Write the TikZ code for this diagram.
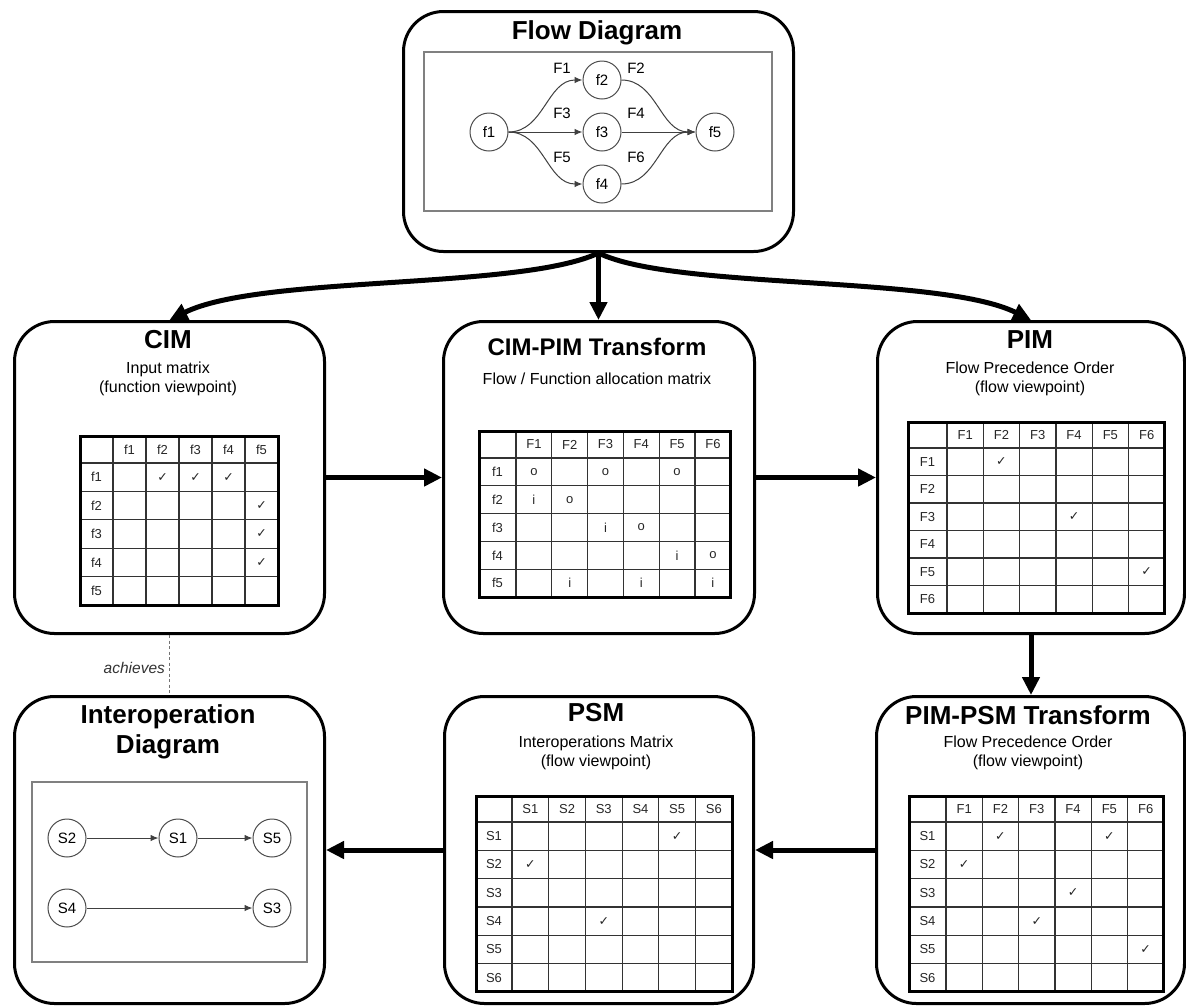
\documentclass[tikz,border=0pt]{standalone}
\usepackage{fontspec}
\setmainfont{Liberation Sans}
\newfontfamily\symfont{DejaVu Sans}
\usetikzlibrary{arrows.meta,calc}

\tikzset{
  panel/.style={draw=black, line width=3pt, rounded corners=40pt, inner sep=0pt, anchor=north west},
  paneltitle/.style={font=\fontsize{26}{30}\selectfont\bfseries, align=center, inner sep=0pt},
  panelsub/.style={font=\fontsize{16}{18.5}\selectfont, align=center, inner sep=0pt},
  innerframe/.style={draw=black!50, line width=1.3pt},
  state/.style={circle, draw=black!70, line width=1pt, minimum size=38pt, inner sep=0pt, font=\fontsize{15}{15}\selectfont},
  flowedge/.style={draw=black!75, line width=1pt, -{Latex[length=8pt,width=6.5pt]}},
  flowlabel/.style={font=\fontsize{15}{15}\selectfont, inner sep=0pt},
  bigarrow/.style={line width=5pt, -{Triangle[length=18pt,width=17pt]}},
  gridline/.style={draw=black!80, line width=1.2pt},
  gridframe/.style={draw=black, line width=3pt},
  celltext/.style={font=\fontsize{13}{13}\selectfont, inner sep=0pt, text=black!85},
  relation/.style={draw=black!55, line width=1.2pt, dash pattern=on 3pt off 2.5pt},
  relationlabel/.style={font=\fontsize{15.5}{15.5}\selectfont\itshape, text=black!80, inner sep=4pt},
}

% grid of a matrix: name, x0, y0, header column width, column width,
% header row height, row height, number of columns, number of rows
\newcommand\tablesetup[9]{%
  \def\tgname{#1}\def\tgx{#2}\def\tgy{#3}\def\tghw{#4}\def\tgcw{#5}\def\tghh{#6}\def\tgrh{#7}%
  \pgfmathsetmacro\tgxe{#2+#4+#8*#5}%
  \pgfmathsetmacro\tgye{#3+#6+#9*#7}%
  \foreach \c in {1,...,#8}{\draw[gridline] ({#2+#4+(\c-1)*#5},#3) -- ({#2+#4+(\c-1)*#5},\tgye);}%
  \foreach \r in {1,...,#9}{\draw[gridline] (#2,{#3+#6+(\r-1)*#7}) -- (\tgxe,{#3+#6+(\r-1)*#7});}%
  \draw[gridframe] (#2,#3) rectangle (\tgxe,\tgye);%
}
\newcommand\colhead[2]{\node[celltext] (\tgname-h#1) at ({\tgx+\tghw+(#1-0.5)*\tgcw},{\tgy+0.5*\tghh}) {#2};}
\newcommand\rowhead[2]{\node[celltext] (\tgname-v#1) at ({\tgx+0.5*\tghw},{\tgy+\tghh+(#1-0.5)*\tgrh}) {#2};}
\newcommand\cellmark[3]{\node[celltext] (\tgname-c#1r#2) at ({\tgx+\tghw+(#1-0.5)*\tgcw},{\tgy+\tghh+(#2-0.5)*\tgrh}) {#3};}
\newcommand\chk{{\symfont\fontsize{12.5}{12.5}\selectfont ✓}}

\begin{document}
\begin{tikzpicture}[x=1pt,y=-1pt]
\fill[white] (0,0) rectangle (1186,1005);
\useasboundingbox (0,0) rectangle (1186,1005);

% ---------- panels ----------
\node[panel, minimum width=390pt, minimum height=240pt] (flow)   at (402,10)  {};
\node[panel, minimum width=310pt, minimum height=312pt] (cim)    at (13,320)  {};
\node[panel, minimum width=311pt, minimum height=312pt] (cimpim) at (442,320) {};
\node[panel, minimum width=307pt, minimum height=312pt] (pim)    at (876,320) {};
\node[panel, minimum width=310pt, minimum height=307pt] (interop) at (13,695) {};
\node[panel, minimum width=309pt, minimum height=307pt] (psm)    at (443,695) {};
\node[panel, minimum width=308pt, minimum height=307pt] (pimpsm) at (875,695) {};

% ---------- titles ----------
\node[paneltitle] (tflow) at (597,33) {Flow Diagram};
\node[paneltitle] (tcim) at (168,340) {CIM};
\node[panelsub] (scim) at (168,379) {Input matrix\\(function viewpoint)};
\node[paneltitle, font=\fontsize{24}{28}\selectfont\bfseries] (tcimpim) at (597,347) {CIM-PIM Transform};
\node[panelsub] (scimpim) at (597,379) {Flow / Function allocation matrix};
\node[paneltitle] (tpim) at (1030,340) {PIM};
\node[panelsub] (spim) at (1030,379) {Flow Precedence Order\\(flow viewpoint)};
\node[paneltitle] (tinterop) at (168,732) {Interoperation\\Diagram};
\node[paneltitle] (tpsm) at (596,713) {PSM};
\node[panelsub] (spsm) at (596,753) {Interoperations Matrix\\(flow viewpoint)};
\node[paneltitle] (tpimpsm) at (1028,715) {PIM-PSM Transform};
\node[panelsub] (spimpsm) at (1028,753) {Flow Precedence Order\\(flow viewpoint)};

% ---------- flow diagram ----------
\draw[innerframe] (424,52) rectangle (772,211);
\node[state] (f1) at (489,132) {f1};
\node[state] (f2) at (602,80)  {f2};
\node[state] (f3) at (602,132) {f3};
\node[state] (f4) at (602,184) {f4};
\node[state] (f5) at (715,132) {f5};
\draw[flowedge] (f1) to[out=0,in=180] (f2);
\draw[flowedge] (f1) -- (f3);
\draw[flowedge] (f1) to[out=0,in=180] (f4);
\draw[flowedge] (f2) to[out=0,in=180] (f5);
\draw[flowedge] (f3) -- (f5);
\draw[flowedge] (f4) to[out=0,in=180] (f5);
\node[flowlabel] (lF1) at (562,68)  {F1};
\node[flowlabel] (lF2) at (636,68)  {F2};
\node[flowlabel] (lF3) at (562,113) {F3};
\node[flowlabel] (lF4) at (636,113) {F4};
\node[flowlabel] (lF5) at (562,157) {F5};
\node[flowlabel] (lF6) at (636,157) {F6};

% ---------- interoperation diagram ----------
\draw[innerframe] (32,782) rectangle (307,962);
\node[state] (s2) at (67,838)  {S2};
\node[state] (s1) at (178,838) {S1};
\node[state] (s5) at (272,838) {S5};
\node[state] (s4) at (67,908)  {S4};
\node[state] (s3) at (272,908) {S3};
\draw[flowedge] (s2) -- (s1);
\draw[flowedge] (s1) -- (s5);
\draw[flowedge] (s4) -- (s3);

% ---------- CIM input matrix ----------
\tablesetup{cim}{80}{436}{33}{33}{27}{28.4}{5}{5}
\foreach \t [count=\i] in {f1,f2,f3,f4,f5} {\colhead{\i}{\t}\rowhead{\i}{\t}}
\cellmark{2}{1}{\chk}\cellmark{3}{1}{\chk}\cellmark{4}{1}{\chk}
\cellmark{5}{2}{\chk}\cellmark{5}{3}{\chk}\cellmark{5}{4}{\chk}

% ---------- CIM-PIM allocation matrix ----------
\tablesetup{cimpim}{479}{431}{37}{35.8}{27}{27.8}{6}{5}
\foreach \t [count=\i] in {F1,F2,F3,F4,F5,F6} {\colhead{\i}{\t}}
\foreach \t [count=\i] in {f1,f2,f3,f4,f5} {\rowhead{\i}{\t}}
\cellmark{1}{1}{o}\cellmark{3}{1}{o}\cellmark{5}{1}{o}
\cellmark{1}{2}{i}\cellmark{2}{2}{o}
\cellmark{3}{3}{i}\cellmark{4}{3}{o}
\cellmark{5}{4}{i}\cellmark{6}{4}{o}
\cellmark{2}{5}{i}\cellmark{4}{5}{i}\cellmark{6}{5}{i}

% ---------- PIM flow precedence matrix ----------
\tablesetup{pim}{908}{422}{39}{36.3}{26}{27.5}{6}{6}
\foreach \t [count=\i] in {F1,F2,F3,F4,F5,F6} {\colhead{\i}{\t}\rowhead{\i}{\t}}
\cellmark{2}{1}{\chk}\cellmark{4}{3}{\chk}\cellmark{6}{5}{\chk}

% ---------- PIM-PSM transform matrix ----------
\tablesetup{pimpsm}{909}{796}{37}{36.3}{26}{28.3}{6}{6}
\foreach \t [count=\i] in {F1,F2,F3,F4,F5,F6} {\colhead{\i}{\t}}
\foreach \t [count=\i] in {S1,S2,S3,S4,S5,S6} {\rowhead{\i}{\t}}
\cellmark{2}{1}{\chk}\cellmark{5}{1}{\chk}\cellmark{1}{2}{\chk}
\cellmark{4}{3}{\chk}\cellmark{3}{4}{\chk}\cellmark{6}{5}{\chk}

% ---------- PSM interoperations matrix ----------
\tablesetup{psm}{476}{796}{36}{36.7}{26}{28.3}{6}{6}
\foreach \t [count=\i] in {S1,S2,S3,S4,S5,S6} {\colhead{\i}{\t}\rowhead{\i}{\t}}
\cellmark{5}{1}{\chk}\cellmark{1}{2}{\chk}\cellmark{3}{4}{\chk}

% ---------- connectors between panels ----------
\draw[bigarrow] (flow.south) .. controls (520,290) and (260,275) .. (cim.north);
\draw[bigarrow] (flow.south) -- (flow.south |- cimpim.north);
\draw[bigarrow] (flow.south) .. controls (674,290) and (940,275) .. (pim.north);
\draw[bigarrow] (cim.east) -- (cimpim.west);
\draw[bigarrow] (cimpim.east) -- (pim.west);
\draw[bigarrow] (pim.south) -- (pim.south |- pimpsm.north);
\draw[bigarrow] (pimpsm.west) -- (psm.east);
\draw[bigarrow] (psm.west) -- (interop.east);
\draw[relation] (cim.south) -- node[relationlabel, left, pos=0.55] (lach) {achieves} (interop.north);
\end{tikzpicture}
\end{document}
